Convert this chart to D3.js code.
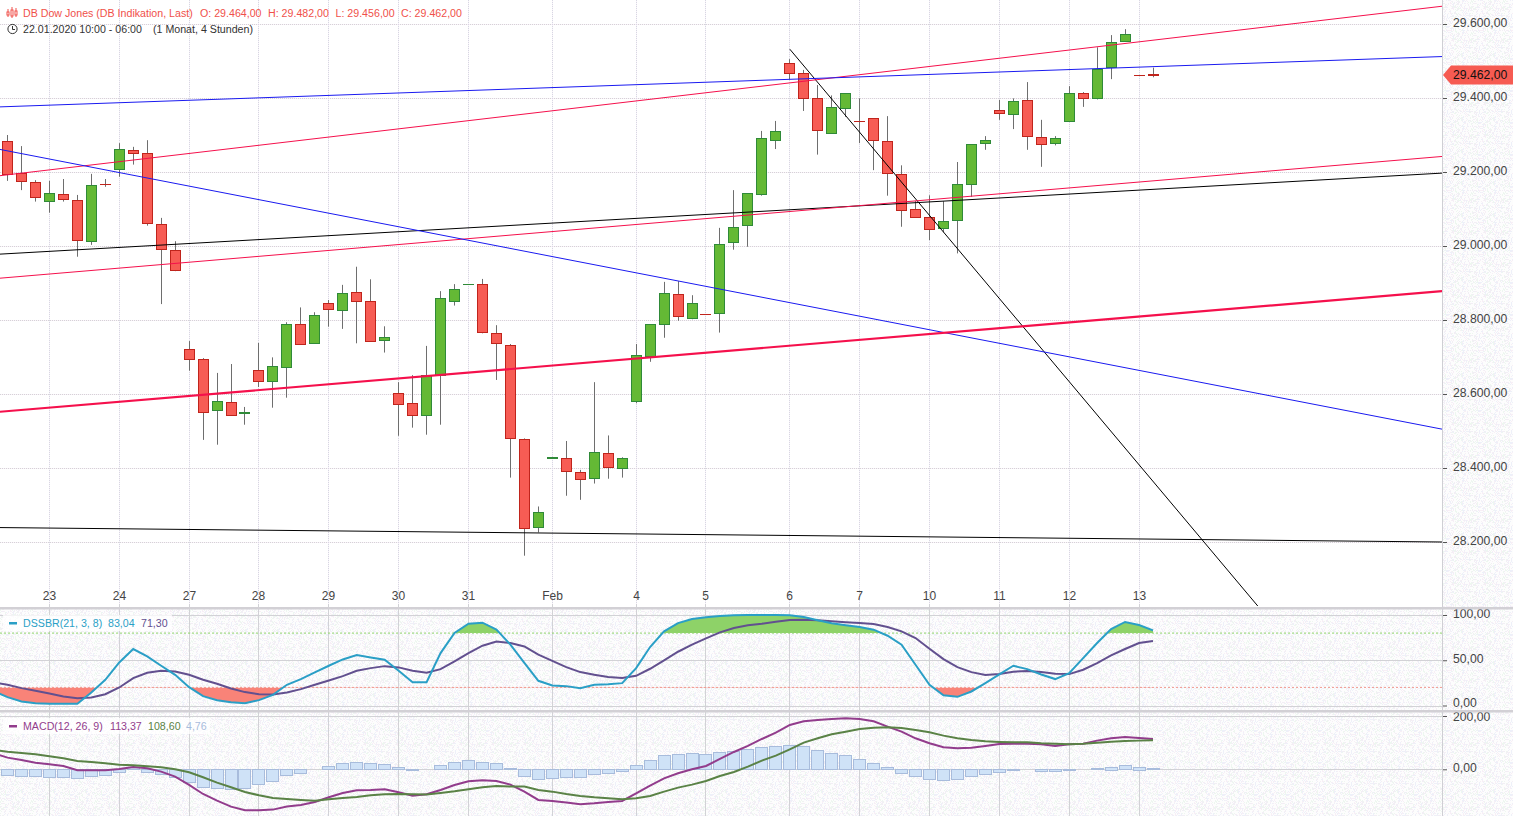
<!DOCTYPE html>
<html>
<head>
<meta charset="utf-8">
<script src="https://cdnjs.cloudflare.com/ajax/libs/d3/7.8.5/d3.min.js"></script>
<style>
  html, body { margin: 0; padding: 0; background: #fff; overflow: hidden; }
  svg { display: block; font-family: "Liberation Sans", Arial, sans-serif; }
</style>
</head>
<body>
<div id="chart"></div>
<script>
// candles, 4h, oldest first
var opens = [29283,29197,29172,29121,29140,29124,29013,29166,29207,29259,
  29250,29059,28988,28721,28694,28556,28578,28546,28664,28634,
  28672,28788,28737,28845,28826,28875,28851,28745,28602,28575,
  28542,28651,28851,28897,28896,28764,28732,28478,28240,28426,
  28426,28388,28372,28440,28399,28580,28702,28788,28869,28805,
  28815,28818,29010,29056,29139,29286,29494,29467,29399,29305,
  29372,29337,29345,29283,29194,29099,29078,29048,29070,29167,
  29278,29367,29356,29394,29294,29278,29337,29413,29399,29483,
  29553,29462,29464];
var closes = [29195,29175,29132,29142,29126,29015,29164,29165,29261,29250,
  29061,28991,28934,28695,28551,28580,28542,28549,28634,28675,
  28788,28734,28813,28829,28872,28851,28742,28753,28572,28542,
  28649,28859,28883,28897,28766,28737,28480,28237,28280,28429,
  28391,28369,28442,28402,28426,28705,28788,28872,28810,28845,
  28814,29005,29051,29142,29291,29310,29467,29399,29313,29375,
  29413,29336,29286,29197,29097,29078,29045,29067,29167,29275,
  29286,29359,29391,29297,29275,29291,29413,29399,29478,29550,
  29572,29461,29462];
var highs = [29300,29270,29178,29176,29181,29138,29195,29181,29278,29268,
  29286,29076,29013,28743,28697,28657,28681,28565,28738,28699,
  28794,28834,28821,28854,28895,28944,28910,28783,28632,28651,
  28730,28878,28897,28897,28911,28786,28735,28480,28296,28429,
  28473,28395,28632,28488,28429,28735,28788,28903,28905,28867,
  28815,29049,29151,29142,29311,29338,29505,29476,29435,29407,
  29413,29399,29345,29351,29218,29122,29137,29121,29227,29275,
  29297,29395,29399,29443,29341,29297,29432,29416,29537,29570,
  29586,29462,29482];
var lows = [29176,29151,29120,29090,29120,28971,29003,29160,29187,29220,
  29055,28843,28932,28663,28476,28463,28541,28517,28619,28563,
  28590,28734,28737,28782,28776,28737,28742,28712,28487,28509,
  28490,28517,28839,28897,28764,28638,28374,28163,28226,28426,
  28325,28314,28358,28371,28374,28575,28687,28752,28798,28802,
  28814,28766,28990,28998,29136,29262,29450,29365,29247,29305,
  29349,29278,29205,29136,29052,29078,29016,29037,28980,29133,
  29260,29341,29316,29260,29214,29272,29337,29376,29396,29451,
  29553,29461,29456];

// date labels and the candle they sit on
var dayLabels = ["23","24","27","28","29","30","31","Feb","4","5","6","7","10","11","12","13"];
var dayIndex = [3,8,13,18,23,28,33,39,45,50,56,61,66,71,76,81];

var priceTicks = [29600,29400,29200,29000,28800,28600,28400,28200];
var dssTicks = [100,50,0];
var macdTicks = [200,0];

// hand drawn lines: [from candle, from price, to candle, to price]
var trendBlue = [[-0.54,29376,102.69,29512],[-0.54,29261,102.69,28505]];
var trendRed = [[-0.54,29190,102.69,29648],[-0.54,28913,102.69,29242]];
var trendRedThick = [[-0.54,28552,102.69,28878]];
var trendBlack = [[-0.54,28978,102.69,29197],[-0.54,28239,102.69,28200],[56,29532,89.5,28027]];

// indicators start one candle before the first one, it is cut off at the left edge
var dssFast = [16,9.2,4.4,2.6,1.8,1.8,1.8,14.4,28.4,47.6,62.4,54.2,43.9,33.9,20.3,10.3,5.9,3.7,2.6,5.9,11.8,
  22.9,29.2,36.5,43.9,50.9,55.7,53.1,50.6,38.4,25.8,25.8,57.9,80.1,90.4,91.5,83.8,
  67.2,47.2,27.3,22.1,21.4,19.2,22.9,23.6,24.7,41.3,64.6,81.9,91.1,95.6,97.4,98.9,99.6,100,100,100,
  99.6,97.8,94.1,90.8,88.6,86.7,83.8,77.1,67.2,45,22.9,11.4,9.6,15.5,24.7,34.3,
  43.9,40.2,34.3,29.2,35.8,52.4,69,84.5,92.3,88.9,83.04];
var dssSlow = [25.5,22.9,19.2,16.2,13.3,10,8.1,8.9,12.5,19.9,30.3,36.2,38.4,37.6,33.9,28.4,24,18.8,14.8,12.5,12.2,
  14.4,18.1,22.9,27.7,32.5,38.4,41.3,43.5,42.1,38.4,36.2,40.2,48.7,57.9,66.1,70.8,
  69,65.3,56.1,49.4,42.4,36.9,33.9,31.4,30.3,32.8,40.6,49.8,59.4,67.2,74.2,80.8,85.6,88.6,90.4,92.6,
  94.5,94.8,94.1,93,91.9,91.1,90,86.7,81.9,74.5,62.7,51.3,42.4,36.9,33.6,34.7,
  37.3,38,36.9,35.1,34.7,39.5,46.9,55.4,62.4,69,71.3];
var macdLine = [60,43.8,35,25,18.8,12.5,-3.8,-3.8,-3.8,1.3,8.8,3.8,-8.8,-27.5,-58.8,-92.6,-117.6,-140,-153.8,-153.8,-151.3,
  -140,-133.8,-122.6,-105,-88.8,-78.8,-77.5,-75,-86.3,-98.8,-93.8,-77.5,-58.8,-45,-41.3,-43.8,
  -57.5,-83.8,-115,-118.8,-125,-131.3,-127.6,-122.6,-118.8,-90,-61.3,-33.8,-15,0,12.5,38.8,65,87.6,113.8,137.6,
  166.4,180,185,188.9,191.4,188.9,180,160,141.3,116.3,97.6,82.6,78.8,81.3,87.6,95,
  96.3,96.3,93.8,87.6,93.8,96.3,107.6,116.3,121.3,117.6,113.37];
var macdSignal = [72.5,66.3,61.3,56.3,48.8,41.3,31.3,27.5,22.5,17.5,15,11.3,7.5,0,-11.3,-30,-50,-67.5,-85,-97.6,-107.6,
  -111.3,-115,-117.6,-112.6,-107.6,-103.8,-97.6,-93.8,-92.6,-93.8,-95,-88.8,-82.6,-75,-67.5,-62.5,
  -65,-65,-77.5,-83.8,-92.6,-100,-105,-108.8,-112.6,-108.8,-100,-83.8,-68.8,-57.5,-43.8,-25,-10,10,32.5,51.3,
  75,100,116.3,131.3,141.3,151.3,156.3,157.6,155,147.6,138.8,126.3,116.3,110,105,102.6,
  101.3,101.3,97.6,96.3,93.8,96.3,100,103.8,106.3,107.6,108.6];
var macdHist = [-22.5,-25,-27.5,-31,-31,-35,-27.5,-24,-12.5,7,-12,-19,-30,-50,-67,-72,-75,-72,-58,-46,
  -24,-16,-1,11,22,26,22,19,7,-4,0,15,26,34,26,22,
  4,-26,-37,-34,-30,-30,-20,-16,-7.5,15,34,52.5,56,60,56,64,67.5,75,82.5,86,
  90,86,71,60,52.5,37.5,22.5,7.5,-15,-26,-37.5,-41,-37.5,-26,-19,-11,
  -2,-1,-7,-7,-2,0,4,10,15,10,4.76];

var lastPrice = 29462;

var width = 1513, height = 816;
var plotRight = 1442;

var de = d3.formatLocale({decimal: ",", thousands: ".", grouping: [3], currency: ["", ""]});
var fmt = de.format(",.2f");

var x = d3.scaleLinear().domain([0, 82]).range([7.5, 1153]);
var yPrice = d3.scaleLinear().domain([28200, 29600]).range([542, 24]);
var yDss = d3.scaleLinear().domain([0, 100]).range([705.5, 615]);
var yMacd = d3.scaleLinear().domain([0, 200]).range([769.3, 716]);

var svg = d3.select("#chart").append("svg").attr("width", width).attr("height", height);
var defs = svg.append("defs");

// the reference is a dithered gif, fake the speckle with a tiled pattern (background only)
var speck = defs.append("pattern").attr("id", "speck")
  .attr("width", 32).attr("height", 32).attr("patternUnits", "userSpaceOnUse");
speck.append("rect").attr("width", 32).attr("height", 32).attr("fill", "#fdfdfd");
var speckColors = ["#f7eff6", "#eef7f0", "#eef0f9", "#f2eff5"];
var seed = 7;
d3.range(32 * 32).forEach(function(n) {
  seed = (seed * 137 + 187) % 1024;
  var k = (seed ^ (seed >> 3)) % 10;
  if (k < 4) {
    speck.append("rect").attr("x", n % 32).attr("y", Math.floor(n / 32))
      .attr("width", 1).attr("height", 1).attr("fill", speckColors[k]);
  }
});

defs.append("clipPath").attr("id", "mainClip").append("rect")
  .attr("x", 0).attr("y", 0).attr("width", plotRight).attr("height", 606);
defs.append("clipPath").attr("id", "above80").append("rect")
  .attr("x", 0).attr("y", 600).attr("width", plotRight).attr("height", yDss(80) - 600);
defs.append("clipPath").attr("id", "below20").append("rect")
  .attr("x", 0).attr("y", yDss(20)).attr("width", plotRight).attr("height", 30);

// backgrounds
svg.append("rect").attr("x", 0).attr("y", 0).attr("width", width).attr("height", height).attr("fill", "#fff");
svg.append("rect").attr("x", 0).attr("y", 608).attr("width", width).attr("height", 208).attr("fill", "url(#speck)");
svg.append("rect").attr("x", plotRight).attr("y", 0).attr("width", width - plotRight).attr("height", height).attr("fill", "url(#speck)");

// main pane grid
var gridMain = svg.append("g");
gridMain.selectAll(".hu").data(priceTicks).enter().append("line")
  .attr("x1", 0).attr("x2", plotRight)
  .attr("y1", function(d) { return Math.round(yPrice(d)) + 0.5; })
  .attr("y2", function(d) { return Math.round(yPrice(d)) + 0.5; })
  .attr("stroke", "#fbf1fa");
gridMain.selectAll(".h").data(priceTicks).enter().append("line")
  .attr("x1", 0).attr("x2", plotRight)
  .attr("y1", function(d) { return Math.round(yPrice(d)) + 0.5; })
  .attr("y2", function(d) { return Math.round(yPrice(d)) + 0.5; })
  .attr("stroke", "#d4d4d6").attr("stroke-dasharray", "1,1");
gridMain.selectAll(".vu").data(dayIndex).enter().append("line")
  .attr("x1", function(d) { return Math.floor(x(d)) + 0.5; })
  .attr("x2", function(d) { return Math.floor(x(d)) + 0.5; })
  .attr("y1", 0).attr("y2", 606)
  .attr("stroke", "#faf3fa");
gridMain.selectAll(".v").data(dayIndex).enter().append("line")
  .attr("x1", function(d) { return Math.floor(x(d)) + 0.5; })
  .attr("x2", function(d) { return Math.floor(x(d)) + 0.5; })
  .attr("y1", 0).attr("y2", 606)
  .attr("stroke", "#d6d8e2").attr("stroke-dasharray", "1,1");

// candles
var candles = svg.append("g");
var idx = d3.range(opens.length);
candles.selectAll(".wick").data(idx).enter().append("line")
  .attr("x1", function(i) { return Math.floor(x(i)) + 0.5; })
  .attr("x2", function(i) { return Math.floor(x(i)) + 0.5; })
  .attr("y1", function(i) { return yPrice(highs[i]); })
  .attr("y2", function(i) { return yPrice(lows[i]); })
  .attr("stroke", "#6e6e6e");
candles.selectAll(".body").data(idx).enter().append("rect")
  .attr("x", function(i) { return Math.floor(x(i)) - 4.5; })
  .attr("y", function(i) { return Math.floor(yPrice(Math.max(opens[i], closes[i]))) + 0.5; })
  .attr("width", 10)
  .attr("height", function(i) {
    // zero height rects do not paint at all, dojis still need their line
    return Math.max(0.01, Math.round(Math.abs(yPrice(opens[i]) - yPrice(closes[i]))));
  })
  .attr("fill", function(i) { return closes[i] >= opens[i] ? "#64b935" : "#f75c54"; })
  .attr("stroke", function(i) { return closes[i] >= opens[i] ? "#2f8a38" : "#c0241c"; });

// trend lines
var trendLayer = svg.append("g").attr("clip-path", "url(#mainClip)");
function drawTrend(list, color, w) {
  trendLayer.selectAll(null).data(list).enter().append("line")
    .attr("x1", function(d) { return x(d[0]); })
    .attr("y1", function(d) { return yPrice(d[1]); })
    .attr("x2", function(d) { return x(d[2]); })
    .attr("y2", function(d) { return yPrice(d[3]); })
    .attr("stroke", color).attr("stroke-width", w);
}
drawTrend(trendBlack, "#000", 1);
drawTrend(trendRed, "#f5104c", 1);
drawTrend(trendBlue, "#1a1af0", 1);
drawTrend(trendRedThick, "#f5104c", 2.2);

// x labels
svg.selectAll(".day").data(dayIndex).enter().append("text")
  .attr("x", function(d) { return Math.floor(x(d)) + 0.5; })
  .attr("y", 600)
  .attr("text-anchor", "middle").attr("font-size", 12).attr("fill", "#444")
  .text(function(d, i) { return dayLabels[i]; });

// indicator grids
var gridSub = svg.append("g").attr("stroke", "#d2d2d6");
gridSub.selectAll(".g1").data(dssTicks).enter().append("line")
  .attr("x1", 0).attr("x2", plotRight)
  .attr("y1", function(d) { return Math.round(yDss(d)) + 0.5; })
  .attr("y2", function(d) { return Math.round(yDss(d)) + 0.5; });
gridSub.selectAll(".g2").data(macdTicks).enter().append("line")
  .attr("x1", 0).attr("x2", plotRight)
  .attr("y1", function(d) { return Math.round(yMacd(d)) + 0.5; })
  .attr("y2", function(d) { return Math.round(yMacd(d)) + 0.5; });
gridSub.selectAll(".g3").data(dayIndex).enter().append("line")
  .attr("x1", function(d) { return Math.floor(x(d)) + 0.5; })
  .attr("x2", function(d) { return Math.floor(x(d)) + 0.5; })
  .attr("y1", 604).attr("y2", height);

// DSS
var dssLine = d3.line().x(function(d, i) { return x(i - 1); }).y(function(d) { return yDss(d); });
var dssGreen = d3.area().x(function(d, i) { return x(i - 1); }).y0(yDss(80)).y1(function(d) { return yDss(d); });
var dssRed = d3.area().x(function(d, i) { return x(i - 1); }).y0(yDss(20)).y1(function(d) { return yDss(d); });

svg.append("path").datum(dssFast).attr("d", dssGreen).attr("fill", "#8ed268").attr("clip-path", "url(#above80)");
svg.append("path").datum(dssFast).attr("d", dssRed).attr("fill", "#f98378").attr("clip-path", "url(#below20)");

svg.append("line").attr("x1", 0).attr("x2", plotRight)
  .attr("y1", yDss(80)).attr("y2", yDss(80))
  .attr("stroke", "#93d66e").attr("stroke-dasharray", "2,2");
svg.append("line").attr("x1", 0).attr("x2", plotRight)
  .attr("y1", yDss(20)).attr("y2", yDss(20))
  .attr("stroke", "#f09a90").attr("stroke-dasharray", "2,2");

svg.append("path").datum(dssSlow).attr("d", dssLine).attr("fill", "none").attr("stroke", "#62508f").attr("stroke-width", 2);
svg.append("path").datum(dssFast).attr("d", dssLine).attr("fill", "none").attr("stroke", "#2a9fc6").attr("stroke-width", 2);

// MACD
svg.selectAll(".hist").data(macdHist).enter().append("rect")
  .attr("x", function(d, i) { return Math.floor(x(i)) - 5.5; })
  .attr("y", function(d) { return Math.round(Math.min(yMacd(d), yMacd(0))) + 0.5; })
  .attr("width", 12)
  .attr("height", function(d) { return Math.round(Math.abs(yMacd(d) - yMacd(0))); })
  .attr("fill", "#cfe2f7").attr("stroke", "#a8bcdc");

var macdPath = d3.line().x(function(d, i) { return x(i - 1); }).y(function(d) { return yMacd(d); });
svg.append("path").datum(macdLine).attr("d", macdPath).attr("fill", "none").attr("stroke", "#923c8c").attr("stroke-width", 2);
svg.append("path").datum(macdSignal).attr("d", macdPath).attr("fill", "none").attr("stroke", "#5a8246").attr("stroke-width", 2);

// right axis
svg.append("line").attr("x1", plotRight + 0.5).attr("x2", plotRight + 0.5).attr("y1", 0).attr("y2", height).attr("stroke", "#cfcfd4");

function rightAxis(scale, ticks, labelShift) {
  var g = svg.append("g").attr("transform", "translate(" + (plotRight + 1) + ",0)")
    .call(d3.axisRight(scale).tickValues(ticks).tickSize(4).tickPadding(6).tickFormat(fmt));
  g.select(".domain").remove();
  g.selectAll("line").attr("stroke", "#555");
  g.selectAll("text").attr("font-family", "Liberation Sans").attr("font-size", 12.2).attr("fill", "#444")
    .attr("y", labelShift);
}
rightAxis(yPrice, priceTicks, -1.5);
// 0,00 and 200,00 nearly touch across the pane edge, nudge them apart
rightAxis(yDss, dssTicks, function(d) { return d === 0 ? -2.8 : -1.5; });
rightAxis(yMacd, macdTicks, function(d) { return d === 200 ? 0.4 : -1.5; });

// pane separators
[608, 711].forEach(function(py) {
  svg.append("rect").attr("x", 0).attr("y", py - 1).attr("width", width).attr("height", 2.5).attr("fill", "#d2d0d5");
});

// last price tag
var tagY = yPrice(lastPrice);
var tagTop = tagY - 9.5, tagBot = tagY + 9.5;
svg.append("path")
  .attr("d", d3.line()([[plotRight + 1, tagY], [plotRight + 9, tagTop], [width, tagTop], [width, tagBot], [plotRight + 9, tagBot]]) + "Z")
  .attr("fill", "#f65b52");
svg.append("text").attr("x", plotRight + 11).attr("y", tagY + 4.2)
  .attr("font-size", 12.2).attr("fill", "#111").text(fmt(lastPrice));

// header
var header = svg.append("g").attr("font-size", 10.65);
var red = "#f0504a";
var headParts = [[23, "DB Dow Jones (DB Indikation, Last)"], [200, "O: 29.464,00"], [268, "H: 29.482,00"], [335.5, "L: 29.456,00"], [401, "C: 29.462,00"]];
header.selectAll(".hp").data(headParts).enter().append("text")
  .attr("x", function(d) { return d[0]; }).attr("y", 17)
  .attr("fill", red).text(function(d) { return d[1]; });
header.append("text").attr("x", 23).attr("y", 33).attr("fill", "#333").text("22.01.2020 10:00 - 06:00");
header.append("text").attr("x", 153).attr("y", 33).attr("fill", "#333").text("(1 Monat, 4 Stunden)");

// little candle glyph
var glyph = svg.append("g").attr("stroke", red).attr("fill", "none");
[[8, 11, 16], [12, 9, 17], [16, 10, 16]].forEach(function(b) {
  glyph.append("line").attr("x1", b[0]).attr("x2", b[0]).attr("y1", b[1] - 2).attr("y2", b[2] + 1);
  glyph.append("rect").attr("x", b[0] - 1).attr("y", b[1] + 1).attr("width", 2).attr("height", b[2] - b[1] - 2).attr("fill", "#fff");
});
// clock
var clock = svg.append("g").attr("stroke", "#333").attr("fill", "none");
clock.append("circle").attr("cx", 12.5).attr("cy", 29).attr("r", 4.6);
clock.append("path").attr("d", "M12.5,26V29.5H15");

// legends
function legend(yBase, parts, markColor) {
  var boxRight = parts[parts.length - 1][3];
  svg.append("rect").attr("x", 3).attr("y", yBase - 12).attr("width", boxRight - 3).attr("height", 16).attr("fill", "#fff").attr("fill-opacity", 0.75);
  svg.append("rect").attr("x", 9).attr("y", yBase - 5).attr("width", 8).attr("height", 2.5).attr("fill", markColor);
  parts.forEach(function(p) {
    svg.append("text").attr("x", p[0]).attr("y", yBase).attr("font-size", 10.65).attr("fill", p[2]).text(p[1]);
  });
}
legend(627, [[23, "DSSBR(21, 3, 8)", "#2a9fc6", 0], [108, "83,04", "#2a9fc6", 0], [141, "71,30", "#62508f", 172]], "#2a9fc6");
legend(730, [[23, "MACD(12, 26, 9)", "#923c8c", 0], [110, "113,37", "#923c8c", 0], [148, "108,60", "#5a8246", 0], [186, "4,76", "#a8bcdc", 210]], "#923c8c");
</script>
</body>
</html>
